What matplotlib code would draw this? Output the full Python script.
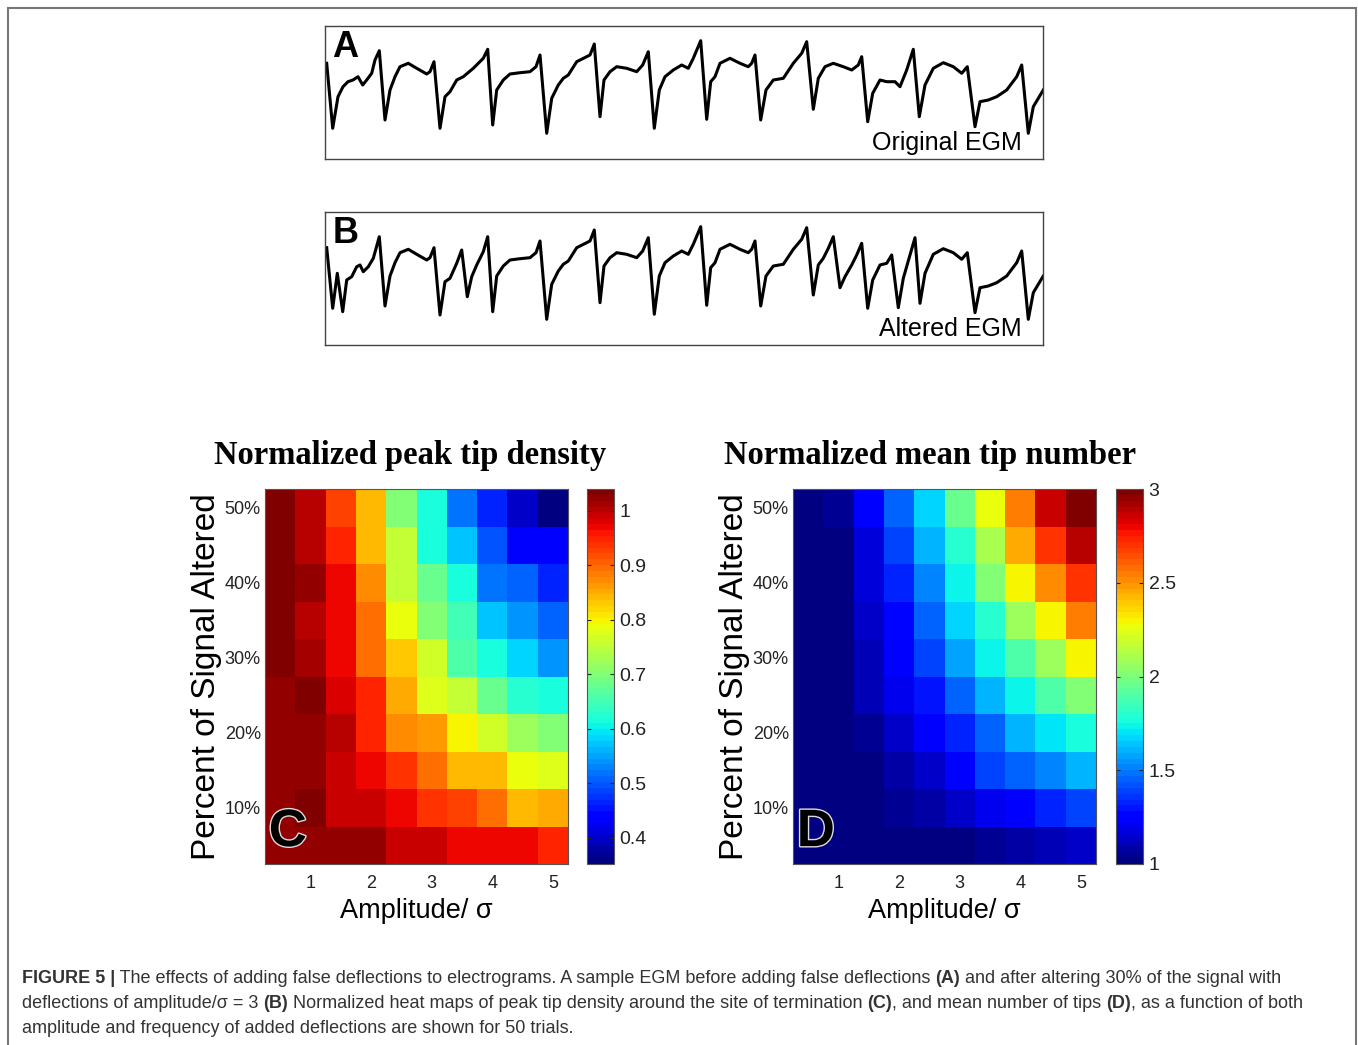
import numpy as np
import matplotlib
matplotlib.use("Agg")
import matplotlib.pyplot as plt
import matplotlib.patheffects as pe

# --- EGM traces (sample position, amplitude) ---
egm_x = [1.7, 7.7, 13, 18, 23, 28, 33, 37.7, 41.7, 46.7, 50, 54.3, 60, 65, 70, 75, 83.3, 91.7,
         101.7, 105, 109, 115, 120, 125, 131.7, 138.3, 148.3, 158.3, 162.7, 167.7, 171.7, 178.3,
         185, 195, 205, 211, 215, 221.7, 226.7, 233.3, 238.3, 243.3, 251.7, 265, 269.3, 275, 279,
         285, 291.7, 301.7, 311.7, 317.7, 323.3, 329.3, 334.3, 340, 348.3, 356.7, 363.3, 368.3,
         375.7, 381.7, 385.7, 390, 395, 405, 415, 423.3, 426.7, 430, 435.7, 441, 448.3, 458.3,
         468.3, 476.7, 481.7, 488.3, 493.3, 500, 508.3, 518.3, 526.7, 533.3, 536.7, 542.7, 547.7,
         555, 561.7, 570, 575, 581.7, 588.3, 594.3, 600, 608.3, 618.3, 628.3, 636.7, 642.3, 650,
         655, 663.3, 671.7, 681.7, 691.7, 696.7, 703.3, 708.3, 713.3, 718.3]
egm_orig = [95.7, 30.7, 62.3, 72.3, 77.3, 79, 82.3, 74, 79, 85.7, 99, 108.3, 39, 69, 82.3, 92.3,
            95.7, 90.7, 85, 87.3, 97.3, 30.7, 62.3, 67.3, 79, 82.3, 90.7, 100.7, 109.7, 34, 69, 79,
            85, 86.3, 87.3, 92.3, 104, 25.7, 60.7, 74, 80.7, 84, 97.3, 104, 115, 42.3, 79, 87.3,
            92.3, 90.7, 87.3, 94, 107.3, 30.7, 69, 82.3, 89, 94, 90.7, 100.7, 118.3, 39.7, 77.3,
            82.3, 95.7, 100.7, 95.7, 92.3, 95.7, 104, 39, 69, 79, 80.7, 95.7, 105.7, 117.3, 49.7,
            80.7, 92.3, 95.7, 92.3, 89, 94, 102.3, 37.3, 65.7, 79, 77.3, 77.3, 72.3, 89, 109.7,
            42.3, 74, 90.7, 96.3, 92.3, 85.7, 92.3, 32.3, 57.3, 59, 62.3, 69, 82.3, 94, 25.7, 52.3,
            60.7, 69]

alt_x = [1.7, 7.7, 12.3, 17.7, 21.7, 26.7, 31.7, 35, 38.3, 43.3, 48.3, 54.3, 60, 65, 70, 75, 83.3,
         91.7, 101.7, 105, 109, 115, 120, 125, 131.7, 136.7, 142.3, 146.7, 151.7, 158.3, 162.7,
         167.7, 171.7, 178.3, 185, 195, 205, 211, 215, 221.7, 226.7, 233.3, 238.3, 243.3, 251.7,
         265, 269.3, 275, 279, 285, 291.7, 301.7, 311.7, 317.7, 323.3, 329.3, 334.3, 340, 348.3,
         356.7, 363.3, 368.3, 375.7, 381.7, 385.7, 390, 395, 405, 415, 423.3, 426.7, 430, 435.7,
         441, 448.3, 458.3, 468.3, 476.7, 481.7, 488.3, 493.3, 498.3, 503.3, 508.3, 515, 520,
         526.7, 531.7, 536.7, 542.7, 547.7, 555, 561.7, 566.7, 573.3, 578.3, 585, 590, 595, 600,
         608.3, 618.3, 628.3, 636.7, 642.3, 650, 655, 663.3, 671.7, 681.7, 691.7, 696.7, 703.3,
         708.3, 713.3, 718.3]
egm_alt = [97.3, 36.7, 71.7, 33.3, 65, 68.3, 78.3, 80, 73.3, 78.3, 86.7, 108.3, 39, 69, 82.3, 92.3,
           95.7, 90.7, 85, 87.3, 97.3, 30, 63.3, 66.7, 81.7, 95, 48.3, 68.3, 80, 93.3, 108.3, 33.3,
           69, 79, 85, 86.3, 87.3, 92.3, 104, 25.7, 60.7, 74, 80.7, 84, 97.3, 104, 115, 42.3, 79,
           87.3, 92.3, 90.7, 87.3, 94, 107.3, 30.7, 69, 82.3, 89, 94, 90.7, 100.7, 118.3, 39.7,
           77.3, 82.3, 95.7, 100.7, 95.7, 92.3, 95.7, 104, 39, 69, 79, 80.7, 95.7, 105.7, 117.3,
           50, 80, 86.7, 96.7, 108.3, 57.3, 68.3, 80, 90, 101.7, 36.7, 65, 80, 81.7, 90, 37.3, 66.7,
           90, 107.3, 41.7, 71.7, 90.7, 96.3, 92.3, 85.7, 92.3, 32.3, 57.3, 59, 62.3, 69, 82.3, 94,
           25.7, 52.3, 60.7, 69]

# --- heat maps: rows = percent altered (50% at top), cols = amplitude/sigma ---
amplitude = [0.5, 1.0, 1.5, 2.0, 2.5, 3.0, 3.5, 4.0, 4.5, 5.0]
percent = [50, 45, 40, 35, 30, 25, 20, 15, 10, 5]

peak_density = [
    [1.03, 1.00, 0.93, 0.84, 0.70, 0.61, 0.52, 0.46, 0.40, 0.35],
    [1.03, 1.00, 0.95, 0.84, 0.75, 0.62, 0.57, 0.50, 0.43, 0.43],
    [1.04, 1.02, 0.965, 0.87, 0.75, 0.675, 0.61, 0.52, 0.51, 0.46],
    [1.03, 1.00, 0.97, 0.90, 0.79, 0.70, 0.65, 0.57, 0.535, 0.51],
    [1.03, 1.01, 0.97, 0.90, 0.83, 0.77, 0.66, 0.62, 0.58, 0.535],
    [1.02, 1.035, 0.985, 0.95, 0.85, 0.78, 0.75, 0.675, 0.63, 0.61],
    [1.02, 1.02, 1.00, 0.95, 0.87, 0.86, 0.80, 0.77, 0.725, 0.70],
    [1.02, 1.02, 0.99, 0.97, 0.94, 0.895, 0.84, 0.84, 0.79, 0.78],
    [1.02, 1.03, 0.99, 0.99, 0.975, 0.94, 0.93, 0.895, 0.84, 0.85],
    [1.02, 1.02, 1.02, 1.02, 0.99, 0.99, 0.97, 0.965, 0.965, 0.95],
]
mean_tips = [
    [1.00, 1.04, 1.22, 1.44, 1.66, 1.94, 2.28, 2.56, 2.87, 2.98],
    [1.00, 1.03, 1.18, 1.38, 1.60, 1.80, 2.12, 2.44, 2.70, 2.89],
    [1.00, 1.02, 1.16, 1.34, 1.53, 1.74, 2.01, 2.30, 2.52, 2.70],
    [1.00, 1.02, 1.14, 1.27, 1.46, 1.66, 1.80, 2.08, 2.30, 2.54],
    [1.00, 1.02, 1.11, 1.23, 1.38, 1.57, 1.74, 1.90, 2.08, 2.30],
    [1.00, 1.02, 1.11, 1.20, 1.31, 1.46, 1.60, 1.74, 1.90, 2.01],
    [1.00, 1.02, 1.04, 1.14, 1.22, 1.34, 1.46, 1.60, 1.70, 1.78],
    [1.00, 1.00, 1.02, 1.07, 1.14, 1.22, 1.38, 1.44, 1.53, 1.60],
    [1.00, 1.00, 1.02, 1.04, 1.07, 1.14, 1.20, 1.22, 1.34, 1.38],
    [1.00, 1.00, 1.00, 1.00, 1.02, 1.02, 1.04, 1.07, 1.11, 1.14],
]

amp_ticks = [1, 2, 3, 4, 5]
pct_ticks = [10, 20, 30, 40, 50]
cbar_c_ticks = [0.4, 0.5, 0.6, 0.7, 0.8, 0.9, 1.0]
cbar_d_ticks = [1, 1.5, 2, 2.5, 3]

W, H = 1358, 1045
SANS = "Liberation Sans"

fig = plt.figure(figsize=(W / 100, H / 100), dpi=100)


def box(x, y, w, h):
    # pixel box (top-left origin) -> figure fraction rect
    return [x / W, 1 - (y + h) / H, w / W, h / H]


# outer frame of the figure panel
frame = plt.Rectangle((8 / W, -0.01), (1356 - 8) / W, 1 - 8 / H + 0.01, transform=fig.transFigure,
                      fill=False, edgecolor="#777777", linewidth=1.5)
fig.patches.append(frame)

# --- EGM panels ---
for rect, xs, ys, letter, name in [
    (box(325, 26, 718, 133), egm_x, egm_orig, "A", "Original EGM"),
    (box(325, 212, 718, 133), alt_x, egm_alt, "B", "Altered EGM"),
]:
    ax = fig.add_axes(rect)
    ax.plot(xs, ys, color="black", linewidth=2.2, solid_joinstyle="round")
    ax.set_xlim(0, 718)
    ax.set_ylim(0, 133)
    ax.set_xticks([])
    ax.set_yticks([])
    for s in ax.spines.values():
        s.set_color("#444444")
        s.set_linewidth(1.0)
    ax.text(0.01, 0.97, letter, transform=ax.transAxes, ha="left", va="top",
            fontsize=26, fontweight="bold", family=SANS)
    ax.text(0.97, 0.03, name, transform=ax.transAxes, ha="right", va="bottom",
            fontsize=18, family=SANS)

# --- heat maps ---
cmap = plt.get_cmap("jet", 64)
amp = np.array(amplitude)
pct = np.array(percent)
x_edges = np.append(amp - 0.25, amp[-1] + 0.25)
y_edges = np.append(pct + 2.5, pct[-1] - 2.5)

panels = [
    (265, 587, peak_density, 0.352, 1.04, cbar_c_ticks, ["0.4", "0.5", "0.6", "0.7", "0.8", "0.9", "1"],
     "Normalized peak tip density", "C", 0.479),
    (793, 1116, mean_tips, 1.0, 3.0, cbar_d_ticks, ["1", "1.5", "2", "2.5", "3"],
     "Normalized mean tip number", "D", 0.452),
]

for hx, cx, data, vmin, vmax, cticks, clabels, title, letter, title_x in panels:
    ax = fig.add_axes(box(hx, 489, 303, 375))
    mesh = ax.pcolormesh(x_edges, y_edges, np.array(data), cmap=cmap, vmin=vmin, vmax=vmax)
    ax.set_xlim(x_edges[0], x_edges[-1])
    ax.set_ylim(y_edges[-1], y_edges[0])
    ax.set_xticks(amp_ticks)
    ax.set_xticklabels([str(t) for t in amp_ticks], family=SANS)
    ax.set_yticks(pct_ticks)
    ax.set_yticklabels([f"{t}%" for t in pct_ticks], family=SANS)
    ax.tick_params(length=0, labelsize=13, colors="#222222")
    ax.tick_params(axis="y", pad=3)
    ax.tick_params(axis="x", pad=8)
    for s in ax.spines.values():
        s.set_color("#555555")
        s.set_linewidth(0.8)
    ax.set_xlabel("Amplitude/ σ", fontsize=19.5, family=SANS, labelpad=4)
    ax.set_ylabel("Percent of Signal Altered", fontsize=24, family=SANS, labelpad=2)
    ax.set_title(title, fontsize=23.5, fontweight="bold", family="Liberation Serif", pad=18, x=title_x)
    ax.text(0.075, 0.085, letter, transform=ax.transAxes, ha="center", va="center",
            fontsize=38, fontweight="bold", family=SANS, color="black",
            path_effects=[pe.withStroke(linewidth=2, foreground="#dddddd")])

    cax = fig.add_axes(box(cx, 489, 27, 375))
    cb = fig.colorbar(mesh, cax=cax)
    cb.set_ticks(cticks)
    cb.set_ticklabels(clabels)
    for lab in cax.get_yticklabels():
        lab.set_family(SANS)
    cax.tick_params(direction="in", length=3, width=0.8, labelsize=14, colors="#222222",
                    left=True, right=True, pad=4)
    cb.outline.set_edgecolor("#555555")
    cb.outline.set_linewidth(0.8)

# --- caption ---
cap_color = "#333333"
cap_size = 13.0
lines = [
    [("FIGURE 5 |", True), (" The effects of adding false deflections to electrograms. A sample EGM before "
                            "adding false deflections ", False), ("(A)", True),
     (" and after altering 30% of the signal with", False)],
    [("deflections of amplitude/σ = 3 ", False), ("(B)", True),
     (" Normalized heat maps of peak tip density around the site of termination ", False), ("(C)", True),
     (", and mean number of tips ", False), ("(D)", True), (", as a function of both", False)],
    [("amplitude and frequency of added deflections are shown for 50 trials.", False)],
]
for i, segs in enumerate(lines):
    y = 1 - (983 + 25 * i) / H
    prev = None
    for txt, bold in segs:
        kw = dict(fontsize=cap_size, family=SANS, color=cap_color,
                  fontweight="bold" if bold else "normal")
        if prev is None:
            prev = fig.text(22 / W, y, txt, ha="left", va="baseline", **kw)
        else:
            prev = plt.annotate(txt, xy=(1, 0), xycoords=prev, ha="left", va="bottom",
                                annotation_clip=False, **kw)

fig.savefig("out.png", dpi=100)
